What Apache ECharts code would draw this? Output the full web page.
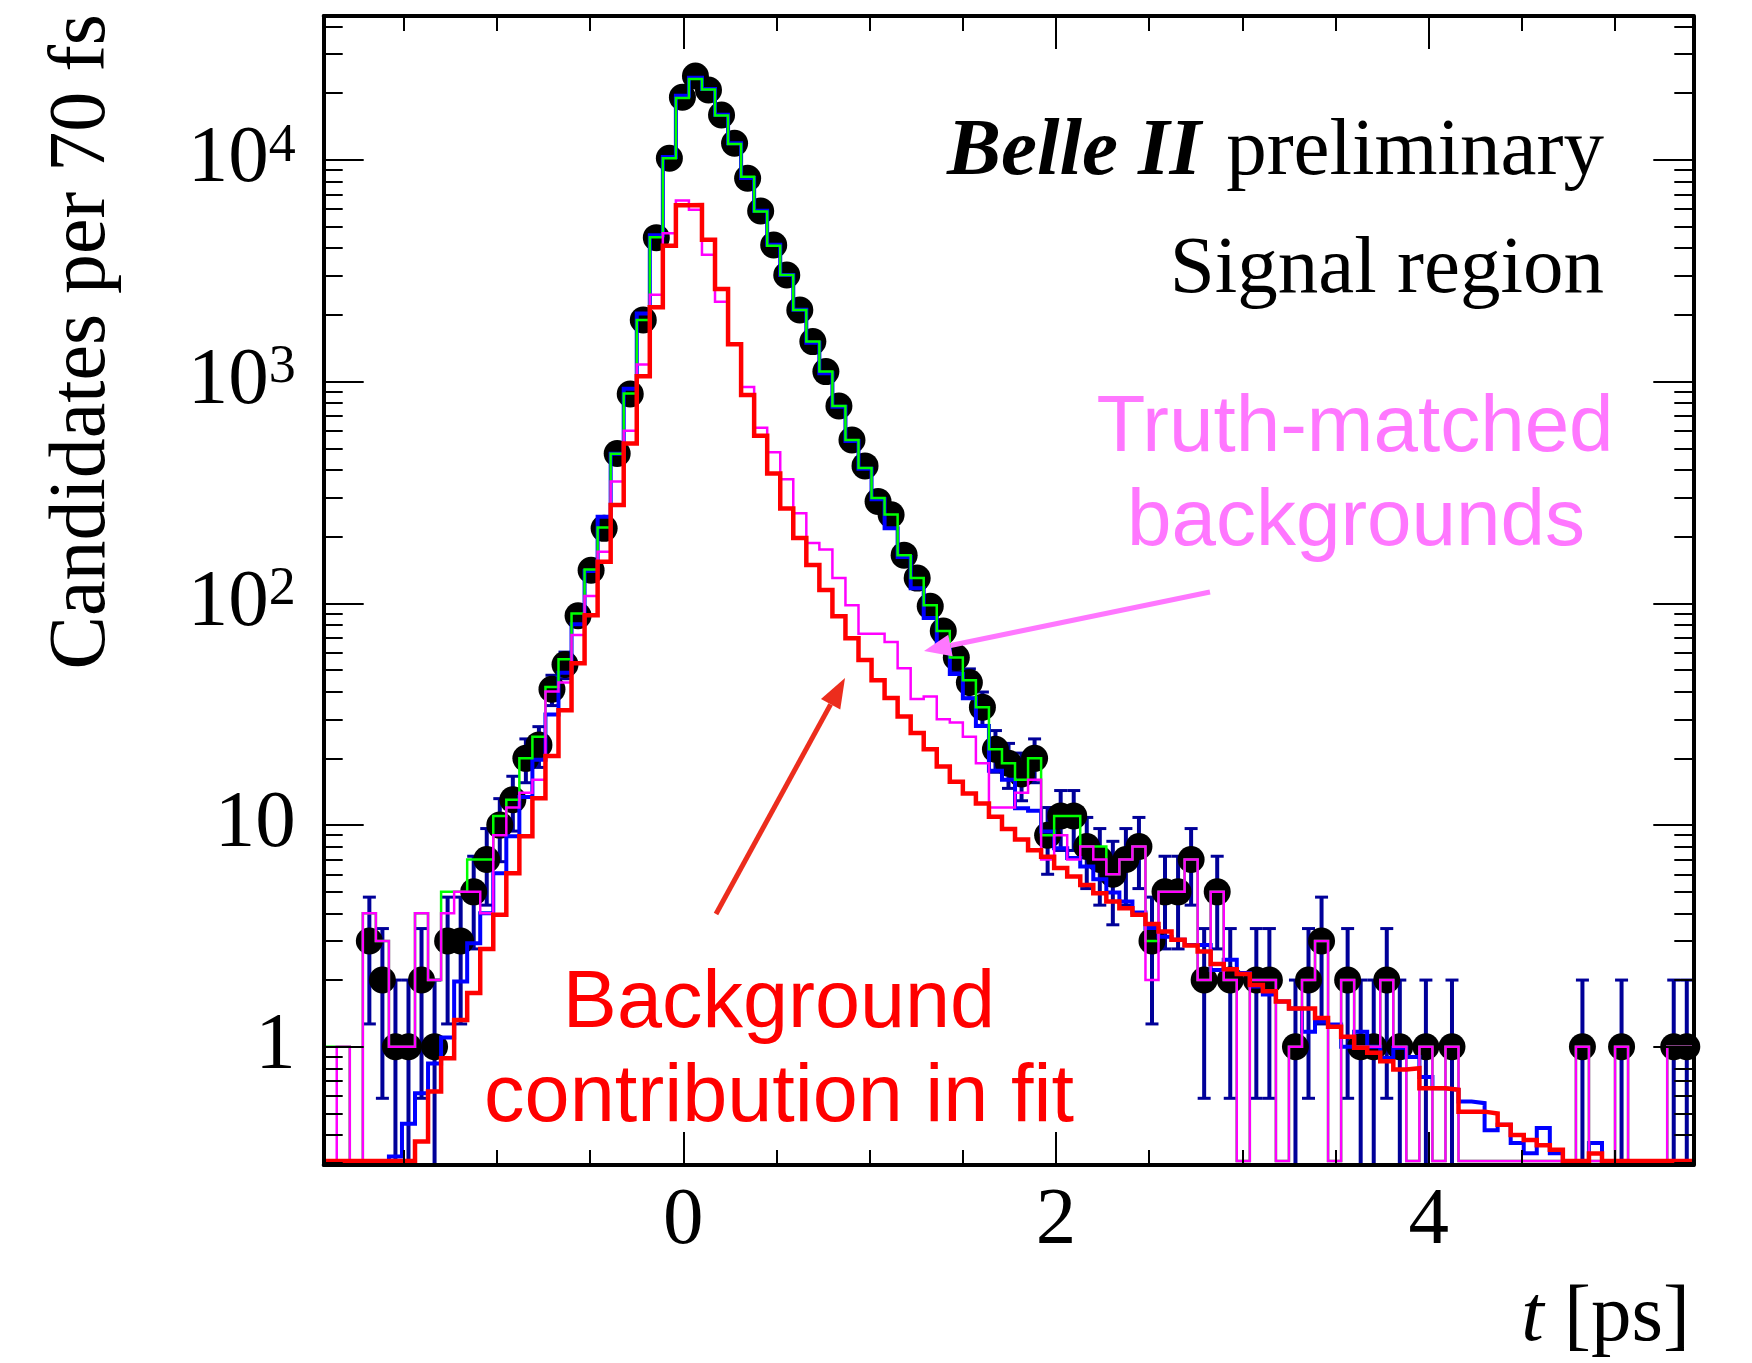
<!DOCTYPE html>
<html><head><meta charset="utf-8">
<script src="https://cdn.jsdelivr.net/npm/echarts@6/dist/echarts.min.js"></script>
<style>html,body{margin:0;padding:0;background:#fff}#c{width:1752px;height:1363px}</style>
</head><body><div id="c"></div>
<script>
// ---- axis setup ----
const X_MIN = -1.93, BIN_W = 0.07, N_BINS = 105;
const X_MAX = X_MIN + BIN_W * N_BINS;
const Y_MIN = 0.293, Y_MAX = 44600;

// ---- data (candidates per 70 fs bin) ----
const dataCounts = [
  0,0,0,3,2,1,1,2,1,3,
  3,5,7,10,13,20,23,41,53,88,
  141,218,474,880,1898,4463,10180,19170,23920,20690,
  15950,11890,8270,5890,4137,3029,2106,1516,1110,777,
  546,417,288,251,165,130,97,75,57,44,
  34,22,19,17,20,9,11,11,8,7,
  6,7,8,3,5,5,7,2,5,2,
  0,2,2,0,1,2,3,0,2,1,
  1,2,1,0,1,0,1,0,0,0,
  0,0,0,0,0,0,1,0,0,1,
  0,0,0,1,1];
// green histogram
const totalHist = [
  1,1,0,4,3,1,1,4,2,5,
  5,7,7,11,13,20,25,42,56,90,
  142,220,473,884,1898,4480,10190,19020,23200,20790,
  15850,11800,8400,5860,4100,3029,2106,1516,1110,777,
  546,408,299,252,165,130,98,75,57,45,
  34,22,19,16,20,9,11,11,8,8,
  6,7,8,3,5,5,7,2,5,2,
  0,2,2,0,1,2,3,0,2,1,
  1,2,1,0,1,0,1,0,0,0,
  0,0,0,0,0,0,1,0,0,1,
  0,0,0,1,1];
// blue histogram
const fitTotal = [
  0,0,0,0,0,0.32,0.45,0.618,0.84,1.1,
  1.97,2.93,4.0,6.06,8.9,13.4,19.7,31.5,48.6,80.6,
  140,246,473,928,2030,4580,10300,19500,23500,20900,
  16000,11900,8300,5900,4150,3030,2110,1500,1090,770,
  540,405,295,218,162,117,86,62,48,37.3,
  28,17.6,16.0,11.9,11.6,9.35,7.86,7.1,6.5,5.7,
  4.96,4.52,4.03,3.43,3.14,3.04,2.88,2.88,2.22,2.47,
  2.15,1.87,1.72,1.6,1.49,1.17,1.30,1.26,1.0,1.17,
  1.0,0.89,0.99,0.90,0.73,0.65,0.64,0.566,0.557,0.42,
  0.445,0.368,0.331,0.43,0.331,0,0,0.368,0,0,
  0,0,0,0,0];
// magenta histogram: truth-matched backgrounds
const truthBkg = [
  0,1,0,4,3,1,1,4,2,4,
  5,5,4,9,12,14,16,40,44,72,
  108,171,355,600,1195,2466,4676,6560,5960,3735,
  2295,1475,947,620,480,363,255,187,175,130,
  98,73,73,67,51,37,38,30,29,25,
  19,12,12,14,16,7,9,7,8,7,
  6,7,8,2,5,5,7,2,5,2,
  0,2,2,0,1,2,3,0,2,1,
  1,2,1,0,1,0,1,0,0,0,
  0,0,0,0,0,0,1,0,0,1,
  0,0,0,1,1];
// red histogram: background contribution in fit
const fitBkg = [
  0,0,0,0,0,0,0,0.374,0.629,0.889,
  1.32,1.75,2.76,3.94,6.06,8.9,13.2,20.5,33,53.7,
  88.5,154,278,526,1057,2164,4100,6240,6260,4370,
  2620,1475,870,570,385,268,197,149,115,87.4,
  69.6,55.5,45,37.4,30.9,26,22,18.4,15.7,13.9,
  12.5,10.9,9.6,8.6,7.7,7.2,6.4,5.86,5.37,4.93,
  4.52,4.22,3.94,3.58,3.31,3.04,2.86,2.69,2.36,2.24,
  2.13,1.9,1.78,1.6,1.49,1.49,1.35,1.23,1.11,0.99,
  0.94,0.86,0.79,0.80,0.65,0.65,0.64,0.51,0.51,0.50,
  0.445,0.40,0.38,0.36,0.343,0,0,0.33,0,0,
  0,0,0,0,0];

// ---- ticks / labels ----
const xLabelTicks = [0, 2, 4];
const xMinorTicks = [-1.5,-1,-0.5,0.5,1,1.5,2.5,3,3.5,4.5,5];
const yLabelTicks = [1, 10, 100, 1000, 10000];
const yMinorTicks = [0.3,0.4,0.5,0.6,0.7,0.8,0.9,
  2,3,4,5,6,7,8,9, 20,30,40,50,60,70,80,90,
  200,300,400,500,600,700,800,900, 2000,3000,4000,5000,6000,7000,8000,9000,
  20000,30000,40000];

const SERIF = 'Liberation Serif, Times New Roman, serif';
const SANS = 'Liberation Sans, Arial, Helvetica, sans-serif';
const FLOOR = Y_MIN * 1.042;   // ROOT-like drawing floor for empty bins

function edge(i) { return X_MIN + BIN_W * i; }
function center(i) { return X_MIN + BIN_W * (i + 0.5); }
function histPoints(vals) {
  const pts = [[edge(0), FLOOR]];
  for (let i = 0; i < vals.length; i++) {
    const v = Math.max(vals[i], FLOOR);
    pts.push([edge(i), v], [edge(i + 1), v]);
  }
  pts.push([edge(vals.length), FLOOR]);
  return pts;
}
const pointData = [];
dataCounts.forEach((v, i) => { if (v > 0) pointData.push([center(i), v, Math.sqrt(v)]); });

function histSeries(name, vals, color, width, z) {
  return {
    name, type: 'line', data: histPoints(vals), showSymbol: false, symbol: 'none',
    xAxisIndex: 0, yAxisIndex: 0, clip: true, z, animation: false,
    lineStyle: { color, width, join: 'miter', cap: 'butt', opacity: 1 }
  };
}

function xAx(pos, ticks, len, showLine, labels) {
  return {
    type: 'value', min: X_MIN, max: X_MAX, position: pos, z: 10,
    axisLine: { show: showLine, onZero: false, lineStyle: { color: '#000', width: 4 } },
    axisTick: { show: true, inside: true, length: len, customValues: ticks, lineStyle: { color: '#000', width: 2 } },
    axisLabel: labels ? { show: true, customValues: ticks, color: '#000', fontFamily: SERIF, fontSize: 81, margin: 16 } : { show: false },
    splitLine: { show: false }
  };
}
function yAx(pos, ticks, len, showLine, labels) {
  return {
    type: 'log', logBase: 10, min: Y_MIN, max: Y_MAX, position: pos, z: 10,
    axisLine: { show: showLine, onZero: false, lineStyle: { color: '#000', width: 4 } },
    axisTick: { show: true, inside: true, length: len, customValues: ticks, lineStyle: { color: '#000', width: 2 } },
    axisLabel: labels ? {
      show: true, customValues: ticks, color: '#000', fontFamily: SERIF, fontSize: 81, margin: 28,
      formatter: v => { const n = Math.round(Math.log10(v)); return n === 0 ? '1' : n === 1 ? '10' : '10{s|' + n + '}'; },
      rich: { s: { fontSize: 54, fontFamily: SERIF, color: '#000', verticalAlign: 'top', lineHeight: 44 } }
    } : { show: false },
    splitLine: { show: false }, minorTick: { show: false }
  };
}

function arrow(tail, tip, color, w, headLen, headHalf) {
  const dx = tip[0] - tail[0], dy = tip[1] - tail[1];
  const L = Math.hypot(dx, dy), ux = dx / L, uy = dy / L;
  const bx = tip[0] - ux * headLen, by = tip[1] - uy * headLen;
  const px = -uy, py = ux;
  return [
    { type: 'line', z: 30, shape: { x1: tail[0], y1: tail[1], x2: bx, y2: by }, style: { stroke: color, lineWidth: w } },
    { type: 'polygon', z: 30, shape: { points: [tip, [bx + px * headHalf, by + py * headHalf], [bx - px * headHalf, by - py * headHalf]] }, style: { fill: color } }
  ];
}
function txt(x, y, text, opts) {
  return { type: 'text', x, y, z: 30, style: Object.assign({ text }, opts) };
}

const chart = echarts.init(document.getElementById('c'), null, { renderer: 'canvas' });
chart.setOption({
  backgroundColor: '#fff',
  animation: false,
  grid: { left: 323.7, right: 58.7, top: 16, bottom: 198, containLabel: false, outerBoundsMode: 'none' },
  xAxis: [
    xAx('bottom', xLabelTicks, 33, true, true),
    xAx('bottom', xMinorTicks, 15, false, false),
    xAx('top', xLabelTicks, 33, true, false),
    xAx('top', xMinorTicks, 15, false, false)
  ],
  yAxis: [
    yAx('left', yLabelTicks, 40, true, true),
    yAx('left', yMinorTicks, 19, false, false),
    yAx('right', yLabelTicks, 40, true, false),
    yAx('right', yMinorTicks, 19, false, false)
  ],
  series: [
    {
      name: 'errors', type: 'custom', xAxisIndex: 0, yAxisIndex: 0, clip: true, z: 2, animation: false,
      data: pointData,
      renderItem: (params, api) => {
        const x = api.value(0), v = api.value(1), e = api.value(2);
        const top = api.coord([x, v + e]);
        const bot = api.coord([x, Math.max(v - e, Y_MIN)]);
        const hw = 6.5, col = '#000099';
        return { type: 'group', children: [
          { type: 'line', shape: { x1: top[0], y1: top[1], x2: bot[0], y2: bot[1] }, style: { stroke: col, lineWidth: 4 } },
          { type: 'line', shape: { x1: top[0] - hw, y1: top[1], x2: top[0] + hw, y2: top[1] }, style: { stroke: col, lineWidth: 3 } },
          { type: 'line', shape: { x1: bot[0] - hw, y1: bot[1], x2: bot[0] + hw, y2: bot[1] }, style: { stroke: col, lineWidth: 3 } }
        ] };
      }
    },
    {
      name: 'data', type: 'scatter', xAxisIndex: 0, yAxisIndex: 0, z: 3, animation: false,
      data: pointData.map(p => [p[0], p[1]]), symbol: 'circle', symbolSize: 27,
      itemStyle: { color: '#000', opacity: 1 }
    },
    histSeries('fit', fitTotal, '#0000ff', 4, 4),
    histSeries('total', totalHist, '#00ff00', 2.5, 5),
    histSeries('truth', truthBkg, '#ff00ff', 2.5, 6),
    histSeries('bkg', fitBkg, '#ff0000', 4.5, 7)
  ],
  graphic: [
    txt(1604, 153, '{b|Belle II}{sp|}{r|preliminary}', { align: 'right', verticalAlign: 'middle', textAlign: 'right', textVerticalAlign: 'middle',
      rich: { b: { fontFamily: SERIF, fontSize: 81, fontWeight: 'bold', fontStyle: 'italic', fill: '#000', color: '#000' },
              sp: { width: 25, fontSize: 81 },
              r: { fontFamily: SERIF, fontSize: 81, fill: '#000', color: '#000' } } }),
    txt(1604, 271, 'Signal region', { align: 'right', verticalAlign: 'middle', textAlign: 'right', textVerticalAlign: 'middle', fontFamily: SERIF, fontSize: 81, fill: '#000' }),
    txt(1355, 429, 'Truth-matched', { align: 'center', verticalAlign: 'middle', textAlign: 'center', textVerticalAlign: 'middle', fontFamily: SANS, fontSize: 80, fill: '#ff77ff' }),
    txt(1356, 523, 'backgrounds', { align: 'center', verticalAlign: 'middle', textAlign: 'center', textVerticalAlign: 'middle', fontFamily: SANS, fontSize: 80, fill: '#ff77ff' }),
    txt(779, 1005, 'Background', { align: 'center', verticalAlign: 'middle', textAlign: 'center', textVerticalAlign: 'middle', fontFamily: SANS, fontSize: 81, fill: '#ff0000' }),
    txt(779, 1099, 'contribution in fit', { align: 'center', verticalAlign: 'middle', textAlign: 'center', textVerticalAlign: 'middle', fontFamily: SANS, fontSize: 81, fill: '#ff0000' }),
    txt(1690, 1319, '{i|t} [ps]', { align: 'right', verticalAlign: 'middle', textAlign: 'right', textVerticalAlign: 'middle', fontFamily: SERIF, fontSize: 81, fill: '#000',
      rich: { i: { fontFamily: SERIF, fontSize: 81, fontStyle: 'italic', fill: '#000', color: '#000' } } }),
    { type: 'text', x: 83, y: 14, rotation: Math.PI / 2, z: 30,
      style: { text: 'Candidates per 70 fs', align: 'right', verticalAlign: 'middle', textAlign: 'right', textVerticalAlign: 'middle', fontFamily: SERIF, fontSize: 80, fill: '#000' } },
    ...arrow([1210, 592], [924, 651], '#ff77ff', 5, 27, 11),
    ...arrow([716, 914], [845, 678], '#ec2d1d', 5, 30, 11)
  ]
});
</script></body></html>
